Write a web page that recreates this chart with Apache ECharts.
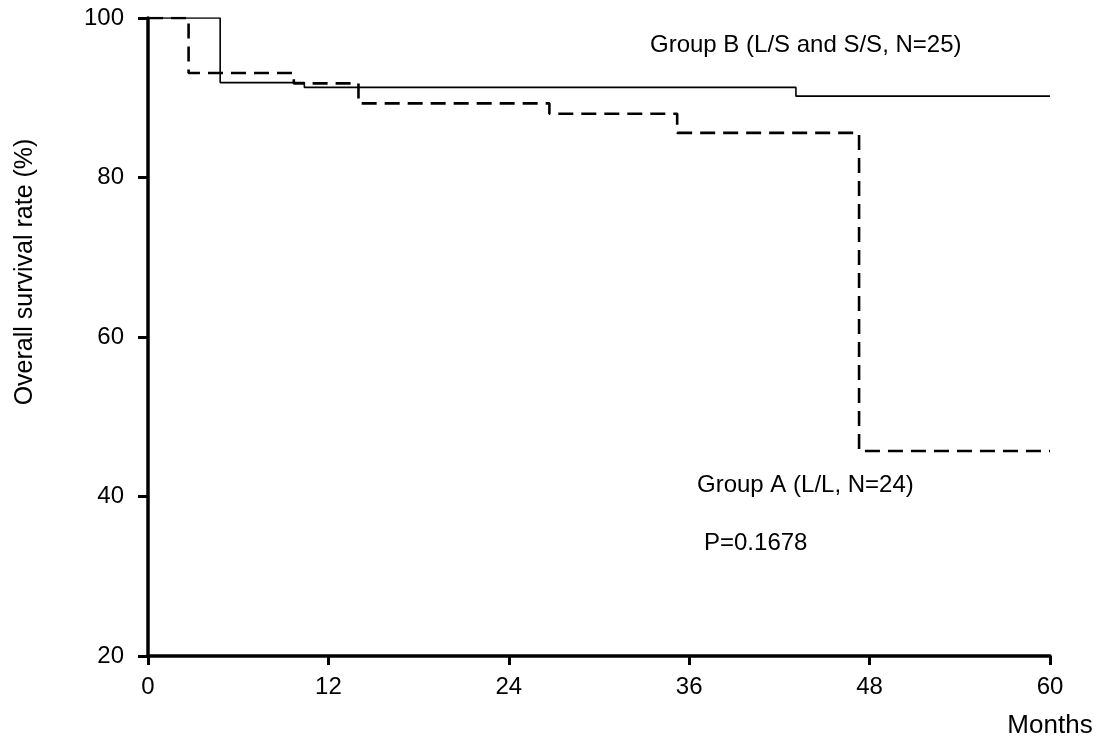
<!DOCTYPE html>
<html>
<head>
<meta charset="utf-8">
<script src="https://cdn.jsdelivr.net/npm/echarts@6/dist/echarts.min.js"></script>
<style>
  html, body { margin: 0; padding: 0; background: #fff; }
  #chart { width: 1099px; height: 740px; }
</style>
</head>
<body>
<div id="chart"></div>
<script>
// Kaplan-Meier steps: [month, survival %]
const groupBMonths = [0, 4.8, 10.4, 43.1, 60];
const groupBSurvival = [100, 91.9, 91.3, 90.2, 90.2];
const groupAMonths = [0, 2.7, 9.7, 14.0, 26.7, 35.2, 47.3, 60];
const groupASurvival = [100, 93.1, 91.8, 89.3, 88.0, 85.6, 45.7, 45.7];
const xTicks = [0, 12, 24, 36, 48, 60];
const yTicks = [20, 40, 60, 80, 100];

const labelB = 'Group B (L/S and S/S, N=25)';
const labelA = 'Group A (L/L, N=24)';
const pText = 'P=0.1678';
const yTitle = 'Overall survival rate (%)';
const xTitle = 'Months';

const pair = (xs, ys) => xs.map((x, i) => [x, ys[i]]);
const font = '"Liberation Sans", Arial, sans-serif';

const chart = echarts.init(document.getElementById('chart'));
chart.setOption({
  animation: false,
  backgroundColor: '#fff',
  grid: { left: 148, right: 49, top: 18, bottom: 84, containLabel: false },
  xAxis: {
    type: 'value', min: 0, max: 60, interval: 12,
    axisLine: { onZero: false, lineStyle: { color: '#000', width: 3.5 } },
    axisTick: { show: true, length: 9, lineStyle: { color: '#000', width: 3 } },
    axisLabel: { color: '#000', fontSize: 24, fontFamily: font, margin: 19,
      formatter: v => xTicks.includes(v) ? String(v) : '' },
    splitLine: { show: false }
  },
  yAxis: {
    type: 'value', min: 20, max: 100, interval: 20,
    axisLine: { show: true, lineStyle: { color: '#000', width: 3.5 } },
    axisTick: { show: true, length: 10, lineStyle: { color: '#000', width: 3 } },
    axisLabel: { color: '#000', fontSize: 24, fontFamily: font, margin: 24,
      formatter: v => yTicks.includes(v) ? String(v) : '' },
    splitLine: { show: false }
  },
  series: [
    {
      name: labelB, type: 'line', step: 'end', symbol: 'none',
      data: pair(groupBMonths, groupBSurvival),
      lineStyle: { color: '#000', width: 1.6, type: 'solid' }
    },
    {
      name: labelA, type: 'line', step: 'end', symbol: 'none',
      data: pair(groupAMonths, groupASurvival),
      lineStyle: { color: '#000', width: 2.6, type: [15, 8] }
    }
  ],
  graphic: [
    { type: 'text', x: 650, y: 45,
      style: { text: labelB, fontSize: 24, fontFamily: font, fill: '#000', verticalAlign: 'middle' } },
    { type: 'text', x: 697, y: 485,
      style: { text: labelA, fontSize: 24, fontFamily: font, fill: '#000', verticalAlign: 'middle' } },
    { type: 'text', x: 704, y: 543,
      style: { text: pText, fontSize: 24, fontFamily: font, fill: '#000', verticalAlign: 'middle' } },
    { type: 'text', x: 1050, y: 726,
      style: { text: xTitle, fontSize: 26, fontFamily: font, fill: '#000', align: 'center', verticalAlign: 'middle' } },
    { type: 'text', x: 25, y: 272, rotation: Math.PI / 2,
      style: { text: yTitle, fontSize: 25, fontFamily: font, fill: '#000', align: 'center', verticalAlign: 'middle' } }
  ]
});
</script>
</body>
</html>
